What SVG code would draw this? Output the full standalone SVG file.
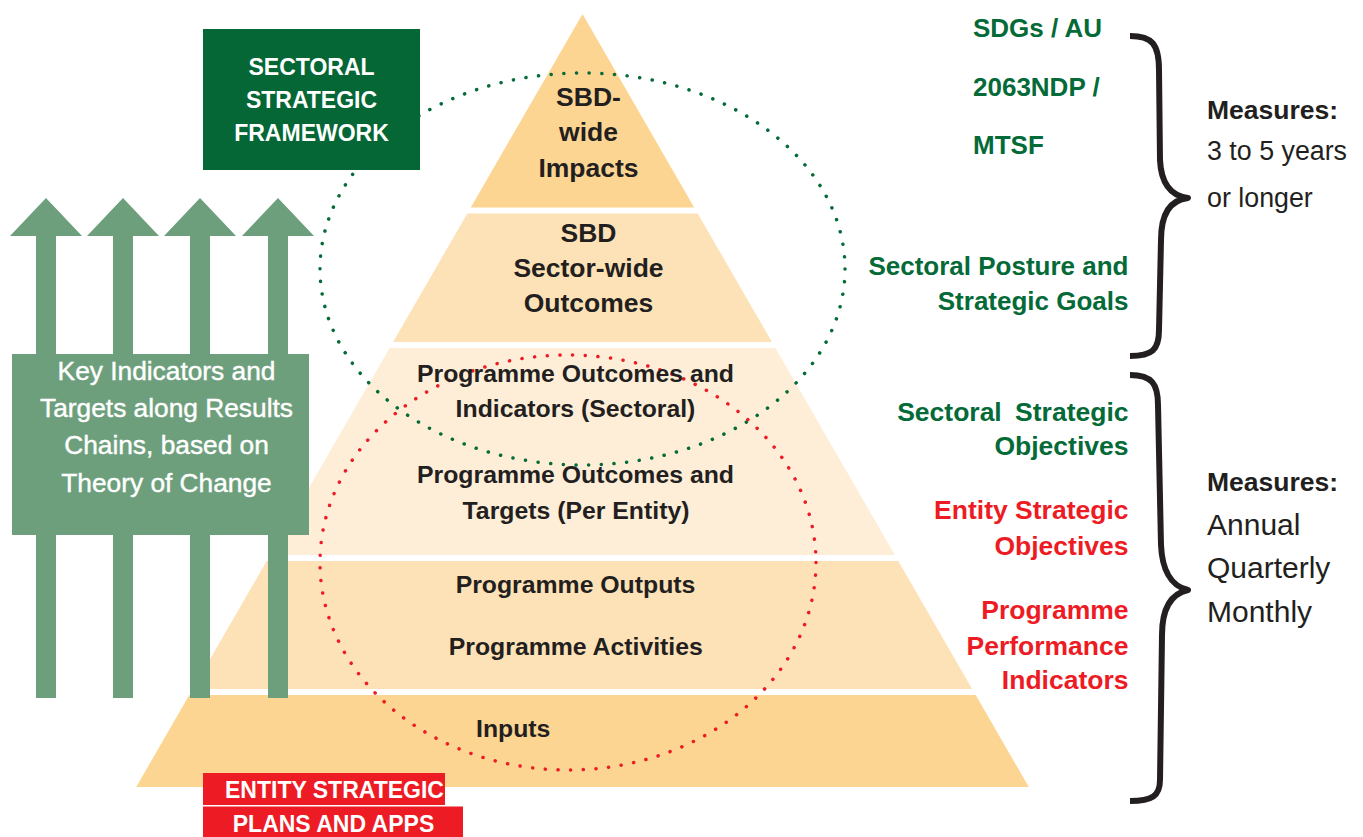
<svg xmlns="http://www.w3.org/2000/svg" width="1363" height="837" viewBox="0 0 1363 837">
  <style>
    .t { font-family: "Liberation Sans", Arial, sans-serif; }
    .b { font-weight: bold; }
    .dark { fill: #231F20; }
    .grn { fill: #046A38; }
    .red { fill: #ED1C24; }
    .wht { fill: #FFFFFF; }
    .lvA { fill: #FDD592; }
    .lvB { fill: #FEE2B7; }
    .lvC { fill: #FEEED8; }
    .brace { fill: none; stroke: #231F20; stroke-width: 6; stroke-linecap: butt; stroke-linejoin: round; }
    .dots { fill: none; stroke-width: 3.5; stroke-linecap: round; stroke-dasharray: 0.1 12.6; }
  </style>
  <defs>
    <path id="arrowUp" d="M0 0 L36 38 L10 38 L10 500 L-10 500 L-10 38 L-36 38 Z" fill="#6E9F7D"/>
  </defs>
  <rect width="1363" height="837" fill="#FFFFFF"/>

  <!-- pyramid layers (60 degree sides, centre x = 582.5) -->
  <g id="pyramid">
    <path id="layer-impacts" class="lvA" d="M582.5 14 L694.2 207.5 L470.8 207.5 Z"/>
    <path id="layer-sector" class="lvB" d="M467.3 213.5 L697.7 213.5 L771.9 342 L393.1 342 Z"/>
    <path id="layer-outcomes" class="lvC" d="M389.6 348 L775.4 348 L894.9 555 L270.1 555 Z"/>
    <path id="layer-outputs" class="lvB" d="M266.7 561 L898.3 561 L972.2 689 L192.8 689 Z"/>
    <path id="layer-inputs" class="lvA" d="M189.3 695 L975.7 695 L1028.8 787 L136.2 787 Z"/>
  </g>

  <!-- dotted scope ellipses -->
  <g id="scope-sectoral">
    <ellipse class="dots" stroke="#046A38" cx="582.5" cy="269" rx="262.5" ry="196"/>
  </g>
  <g id="scope-entity">
    <ellipse class="dots" stroke="#ED1C24" cx="568" cy="562.5" rx="248" ry="207.5"/>
  </g>

  <!-- pyramid labels -->
  <g id="pyramid-labels" class="t b dark" text-anchor="middle">
    <g font-size="26.5">
      <text x="588.5" y="106">SBD-</text>
      <text x="588.5" y="141">wide</text>
      <text x="588.5" y="176.5">Impacts</text>
      <text x="588.5" y="241.5">SBD</text>
      <text x="588.5" y="276.5">Sector-wide</text>
      <text x="588.5" y="312">Outcomes</text>
    </g>
    <g font-size="24.8">
      <text x="575.5" y="381.5">Programme Outcomes and</text>
      <text x="575.5" y="416.5">Indicators (Sectoral)</text>
      <text x="575.5" y="483">Programme Outcomes and</text>
      <text x="576" y="519">Targets (Per Entity)</text>
      <text x="575.5" y="593">Programme Outputs</text>
      <text x="575.8" y="655">Programme Activities</text>
      <text x="476" y="737" text-anchor="start">Inputs</text>
    </g>
  </g>

  <!-- sectoral strategic framework box -->
  <g id="sectoral-framework">
    <rect x="203" y="29" width="217" height="141" fill="#046735"/>
    <g class="t b wht" font-size="23" text-anchor="middle">
      <text x="311.5" y="75">SECTORAL</text>
      <text x="311.5" y="108">STRATEGIC</text>
      <text x="311.5" y="141">FRAMEWORK</text>
    </g>
  </g>

  <!-- upward result-chain arrows -->
  <g id="connectors">
    <use href="#arrowUp" x="46" y="198"/>
    <use href="#arrowUp" x="123" y="198"/>
    <use href="#arrowUp" x="200" y="198"/>
    <use href="#arrowUp" x="278" y="198"/>
  </g>

  <!-- key indicators panel -->
  <g id="key-indicators">
    <rect x="12" y="354" width="297" height="181" fill="#6E9F7D"/>
    <g class="t wht" font-size="26.3" text-anchor="middle" stroke="#FFFFFF" stroke-width="0.4">
      <text x="166.5" y="380">Key Indicators and</text>
      <text x="166.5" y="417">Targets along Results</text>
      <text x="166.5" y="454">Chains, based on</text>
      <text x="166.5" y="492">Theory of Change</text>
    </g>
  </g>

  <!-- entity strategic plans label -->
  <g id="entity-plans">
    <rect x="203" y="773" width="242" height="32" class="red"/>
    <rect x="203" y="806.5" width="260" height="31" class="red"/>
    <g class="t b wht" font-size="23" text-anchor="middle">
      <text x="334.5" y="798">ENTITY STRATEGIC</text>
      <text x="333.5" y="831.5">PLANS AND APPS</text>
    </g>
  </g>

  <!-- long-term frameworks -->
  <g id="long-term-labels" class="t b" font-size="26">
    <text class="grn" x="973" y="37">SDGs / AU</text>
    <text class="grn" x="973" y="95.5">2063NDP /</text>
    <text class="grn" x="973" y="154">MTSF</text>
    <g text-anchor="end">
      <text class="grn" x="1128.5" y="275">Sectoral Posture and</text>
      <text class="grn" x="1128.5" y="309.5">Strategic Goals</text>
    </g>
  </g>

  <!-- short-term objectives -->
  <g id="short-term-labels" class="t b" font-size="26.5" text-anchor="end">
    <text class="grn" x="1128.5" y="420.5" word-spacing="6">Sectoral Strategic</text>
    <text class="grn" x="1128.5" y="455">Objectives</text>
    <text class="red" x="1128.5" y="519">Entity Strategic</text>
    <text class="red" x="1128.5" y="555">Objectives</text>
    <text class="red" x="1128.5" y="619">Programme</text>
    <text class="red" x="1128.5" y="655">Performance</text>
    <text class="red" x="1128.5" y="689">Indicators</text>
  </g>

  <!-- braces -->
  <g id="brace-long">
    <path class="brace" d="M1130 36 C1152 36 1159 44 1159 70 L1160 160 C1161 182 1170 196 1188 198 C1170 200 1161 214 1161 240 L1159 330 C1159 350 1152 356 1130 356"/>
  </g>
  <g id="brace-short">
    <path class="brace" d="M1130 375 C1152 375 1158 384 1158 405 L1161 545 C1162 568 1170 586 1188 590 C1170 594 1162 610 1162 635 L1160 780 C1160 796 1152 801 1130 801"/>
  </g>

  <!-- measurement periods -->
  <g id="measures-long" class="t dark">
    <text class="b" x="1207" y="119" font-size="26.5">Measures:</text>
    <text x="1207" y="160" font-size="26.8">3 to 5 years</text>
    <text x="1207" y="206.5" font-size="26.8">or longer</text>
  </g>
  <g id="measures-short" class="t dark">
    <text class="b" x="1207" y="490.5" font-size="26.5">Measures:</text>
    <text x="1207" y="535" font-size="30">Annual</text>
    <text x="1207" y="577.5" font-size="30">Quarterly</text>
    <text x="1207" y="621.5" font-size="30">Monthly</text>
  </g>
</svg>
